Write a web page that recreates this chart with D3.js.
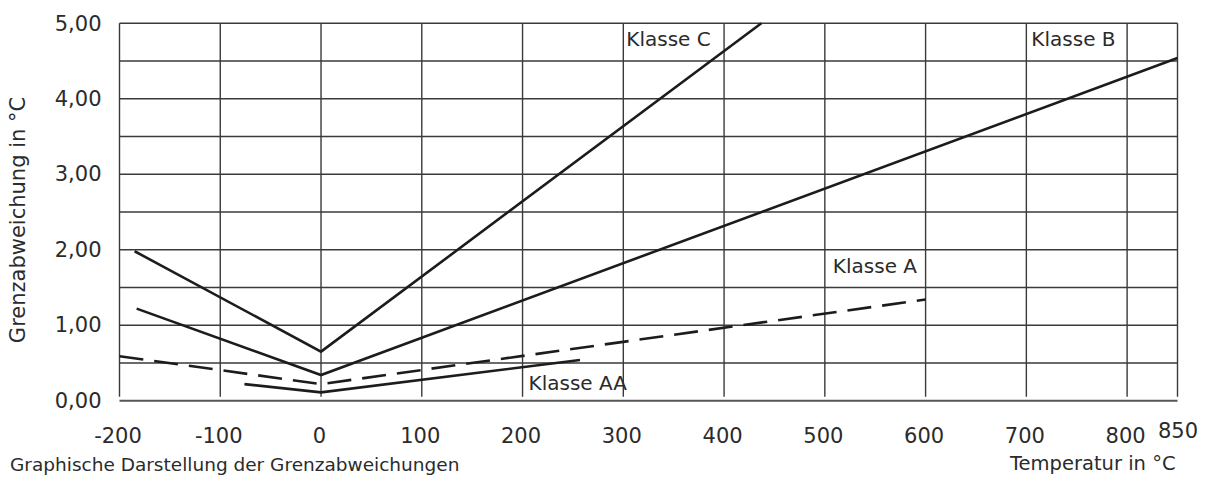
<!DOCTYPE html>
<html>
<head>
<meta charset="utf-8">
<script src="https://cdn.jsdelivr.net/npm/d3@7/dist/d3.min.js"></script>
<style>
  html, body { margin: 0; padding: 0; background: #fff; }
  svg { display: block; }
  text { font-family: "DejaVu Sans", sans-serif; fill: #2b2b2b; }
</style>
</head>
<body>
<svg id="chart" width="1211" height="477"></svg>
<script>
// ---- data ----
const xTicks = [-200, -100, 0, 100, 200, 300, 400, 500, 600, 700, 800, 850];
const yTicks = [0, 1, 2, 3, 4, 5];
const yGrid = [0.5, 1, 1.5, 2, 2.5, 3, 3.5, 4, 4.5, 5];
const klasseC = [[-185, 1.98], [0, 0.65], [437, 5.0]];
const klasseB = [[-183, 1.22], [0, 0.34], [850, 4.54]];
const klasseA = [[-200, 0.59], [0, 0.22], [600, 1.34]];
const klasseAA = [[-76, 0.22], [0, 0.11], [257, 0.54]];
const labels = [
  { text: "Klasse C", x: 300, y: 5.0 },
  { text: "Klasse B", x: 702, y: 5.0 },
  { text: "Klasse A", x: 505, y: 2.0 },
  { text: "Klasse AA", x: 203, y: 0.44 }
];

const svg = d3.select("#chart");
const x = d3.scaleLinear().domain([-200, 850]).range([119.5, 1177.5]);
const y = d3.scaleLinear().domain([0, 5]).range([400.7, 23.3]);

// grid
const grid = svg.append("g").attr("stroke", "#3a3a3a").attr("stroke-width", 1.4);
grid.selectAll("line.h").data(yGrid).join("line")
  .attr("x1", x(-200)).attr("x2", x(850))
  .attr("y1", d => y(d)).attr("y2", d => y(d));
grid.selectAll("line.v").data(xTicks).join("line")
  .attr("x1", d => x(d)).attr("x2", d => x(d))
  .attr("y1", y(5)).attr("y2", y(0) - 4);
// baseline
svg.append("line")
  .attr("x1", x(-200)).attr("x2", x(850))
  .attr("y1", y(0)).attr("y2", y(0))
  .attr("stroke", "#555").attr("stroke-width", 2);

// axes (labels only)
const yAxis = d3.axisLeft(y).tickValues(yTicks).tickSize(0).tickPadding(18)
  .tickFormat(d => d3.format(".2f")(d).replace(".", ","));
const gy = svg.append("g").attr("transform", `translate(${x(-200)},0)`).call(yAxis);
gy.select(".domain").remove();
gy.selectAll("text").attr("font-size", 21).attr("font-family", "DejaVu Sans").attr("fill", "#2b2b2b");

const xAxis = d3.axisBottom(x).tickValues(xTicks).tickSize(0).tickPadding(27)
  .tickFormat(d => String(d));
const gx = svg.append("g").attr("transform", `translate(0,${y(0)})`).call(xAxis);
gx.select(".domain").remove();
gx.selectAll("text").attr("font-size", 21).attr("font-family", "DejaVu Sans").attr("fill", "#2b2b2b")
  .attr("dx", d => d === 850 ? 0 : -2)
  .attr("y", d => d === 850 ? 22 : 27);

// lines
const line = d3.line().x(d => x(d[0])).y(d => y(d[1]));
const series = [
  { data: klasseC, dash: null },
  { data: klasseB, dash: null },
  { data: klasseA, dash: "24 11" },
  { data: klasseAA, dash: null }
];
svg.append("g").selectAll("path").data(series).join("path")
  .attr("d", d => line(d.data))
  .attr("fill", "none")
  .attr("stroke", "#1c1c1c")
  .attr("stroke-width", 2.6)
  .attr("stroke-dasharray", d => d.dash);

// class labels
svg.append("g").selectAll("text").data(labels).join("text")
  .attr("x", d => x(d.x) + 3)
  .attr("y", d => y(d.y) + 23)
  .attr("font-size", 20)
  .text(d => d.text);

// axis titles
svg.append("text")
  .attr("transform", `translate(25,${(y(0) + y(5)) / 2 + 8}) rotate(-90)`)
  .attr("text-anchor", "middle")
  .attr("font-size", 21)
  .text("Grenzabweichung in °C");
svg.append("text")
  .attr("x", x(850) - 2).attr("y", 470)
  .attr("text-anchor", "end")
  .attr("font-size", 19.5)
  .text("Temperatur in °C");
svg.append("text")
  .attr("x", 10).attr("y", 471)
  .attr("font-size", 18.5)
  .text("Graphische Darstellung der Grenzabweichungen");
</script>
</body>
</html>
